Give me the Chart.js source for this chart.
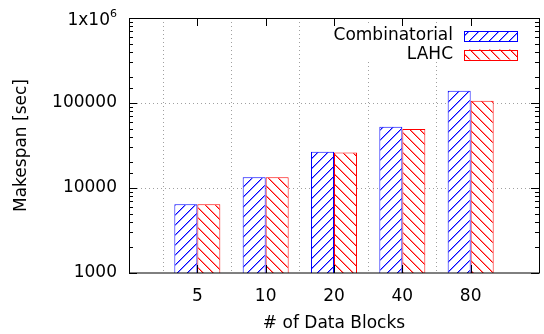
<!DOCTYPE html>
<html>
<head>
<meta charset="utf-8">
<script src="https://cdn.jsdelivr.net/npm/chart.js@4/dist/chart.umd.min.js"></script>
<style>
  body { margin: 0; background: #fff; }
  .chart__body { width: 544px; height: 334px; }
</style>
</head>
<body>
<div class="chart__body"><canvas id="myChart"></canvas></div>
<script>
// data
const categories = ["5", "10", "20", "40", "80"];
const combinatorial = [6450, 13400, 26700, 52400, 139000];
const lahc = [6450, 13400, 26200, 49500, 106500];
const seriesNames = ["Combinatorial", "LAHC"];

const font = { family: "DejaVu Sans", size: 17 };
const gridColor = "#a0a0a0";
const clear = "rgba(0,0,0,0)";

// штриховка: белый фон + диагональные линии (ступеньками по пикселю)
function makeHatch(color, forward) {
  const c = document.createElement("canvas");
  c.width = 10;
  c.height = 10;
  const g = c.getContext("2d");
  g.fillStyle = "#fff";
  g.fillRect(0, 0, 10, 10);
  g.fillStyle = color;
  for (let i = 0; i < 10; i++) {
    const y = forward ? 9 - i : i;
    g.fillRect(i, y, 1, 1);
    g.globalAlpha = 0.45;
    g.fillRect((i + 1) % 10, y, 1, 1);
    g.globalAlpha = 1;
  }
  return g.createPattern(c, "repeat");
}
const blueHatch = makeHatch("#0000ff", true);
const redHatch = makeHatch("#ff0000", false);

function isDecade(v) {
  const e = Math.log10(v);
  return Math.abs(e - Math.round(e)) < 1e-6;
}

// рамка, внутренние засечки и легенда как в gnuplot
const framePlugin = {
  id: "frame",
  afterDatasetsDraw(chart) {
    const { ctx, chartArea: a, scales } = chart;
    const xs = scales.x, ys = scales.y;
    ctx.save();

    // легенда (непрозрачная)
    ctx.fillStyle = "#fff";
    ctx.fillRect(325, 25, a.right - 326, 37);
    ctx.font = "17px 'DejaVu Sans'";
    ctx.textAlign = "right";
    ctx.textBaseline = "middle";
    const rows = [
      { name: seriesNames[0], fill: blueHatch, color: "#0000ff", y: 36 },
      { name: seriesNames[1], fill: redHatch, color: "#ff0000", y: 54.5 },
    ];
    rows.forEach((r) => {
      ctx.fillStyle = "#000";
      ctx.fillText(r.name, 453, r.y);
      ctx.fillStyle = r.fill;
      ctx.fillRect(464, r.y - 5, 53, 10);
      ctx.strokeStyle = r.color;
      ctx.lineWidth = 1;
      ctx.strokeRect(464.5, Math.round(r.y - 5) + 0.5, 53, 10);
    });

    // рамка
    ctx.strokeStyle = "#000";
    ctx.lineWidth = 1;
    ctx.strokeRect(a.left + 0.5, a.top + 0.5, a.right - a.left, a.bottom - a.top - 0.5);

    // засечки по Y
    ctx.beginPath();
    ys.ticks.forEach((t) => {
      const y = Math.round(ys.getPixelForValue(t.value)) + 0.5;
      const len = isDecade(t.value) ? 8 : 4;
      ctx.moveTo(a.left, y); ctx.lineTo(a.left + len, y);
      ctx.moveTo(a.right, y); ctx.lineTo(a.right - len, y);
    });
    // засечки по X
    categories.forEach((_, i) => {
      const x = Math.round(xs.getPixelForValue(i + 1)) + 0.5;
      ctx.moveTo(x, a.bottom); ctx.lineTo(x, a.bottom - 8);
      ctx.moveTo(x, a.top); ctx.lineTo(x, a.top + 8);
    });
    ctx.stroke();

    // подпись 1x10^6
    const yTop = ys.getPixelForValue(1e6);
    ctx.fillStyle = "#000";
    ctx.textBaseline = "alphabetic";
    ctx.textAlign = "right";
    ctx.font = "17px 'DejaVu Sans'";
    ctx.fillText("1x10", 110, yTop + 7);
    ctx.textAlign = "left";
    ctx.font = "11px 'DejaVu Sans'";
    ctx.fillText("6", 110, yTop - 1);
    ctx.restore();
  },
};

const data = {
  datasets: [
    {
      label: seriesNames[0],
      data: combinatorial.map((v, i) => ({ x: i + 1, y: v })),
      backgroundColor: blueHatch,
      borderColor: "#0000ff",
      borderWidth: 1,
    },
    {
      label: seriesNames[1],
      data: lahc.map((v, i) => ({ x: i + 1, y: v })),
      backgroundColor: redHatch,
      borderColor: "#ff0000",
      borderWidth: 1,
    },
  ],
};

const config = {
  type: "bar",
  data,
  options: {
    maintainAspectRatio: false,
    animation: false,
    layout: { padding: { top: 18, right: 5, left: 0, bottom: 0 } },
    datasets: { bar: { barPercentage: 1, categoryPercentage: 0.673 } },
    scales: {
      x: {
        type: "linear",
        min: 0,
        max: 6,
        offset: false,
        afterFit: (s) => { s.height = 61; s.paddingLeft = 0; s.paddingRight = 0; },
        grid: {
          drawTicks: false,
          color: (c) => (c.tick && c.tick.value >= 1 && c.tick.value <= 5 ? gridColor : clear),
        },
        border: { display: false, dash: [1, 3] },
        ticks: {
          stepSize: 1,
          autoSkip: false,
          maxRotation: 0,
          padding: 13,
          color: "#000",
          font,
          callback: (v) => categories[v - 1] || "",
        },
        title: { display: true, text: "# of Data Blocks", color: "#000", font, padding: { top: 0, bottom: 0.5 } },
      },
      y: {
        type: "logarithmic",
        min: 1000,
        max: 1000000,
        afterFit: (s) => { s.width = 129; s.paddingTop = 0; s.paddingBottom = 0; },
        grid: {
          drawTicks: false,
          color: (c) => (c.tick && isDecade(c.tick.value) && c.tick.value > 1000 && c.tick.value < 1e6 ? gridColor : clear),
        },
        border: { display: false, dash: [1, 3] },
        ticks: {
          autoSkip: false,
          padding: 12,
          color: "#000",
          font,
          callback: (v) => (isDecade(v) && v < 1e6 ? String(Math.round(v)) : ""),
        },
        title: { display: true, text: "Makespan [sec]", color: "#000", font, padding: { top: 11, bottom: 0 } },
      },
    },
    plugins: {
      legend: { display: false },
      tooltip: { enabled: false },
    },
  },
  plugins: [framePlugin],
};

const myChart = new Chart(document.getElementById("myChart"), config);
</script>
</body>
</html>
